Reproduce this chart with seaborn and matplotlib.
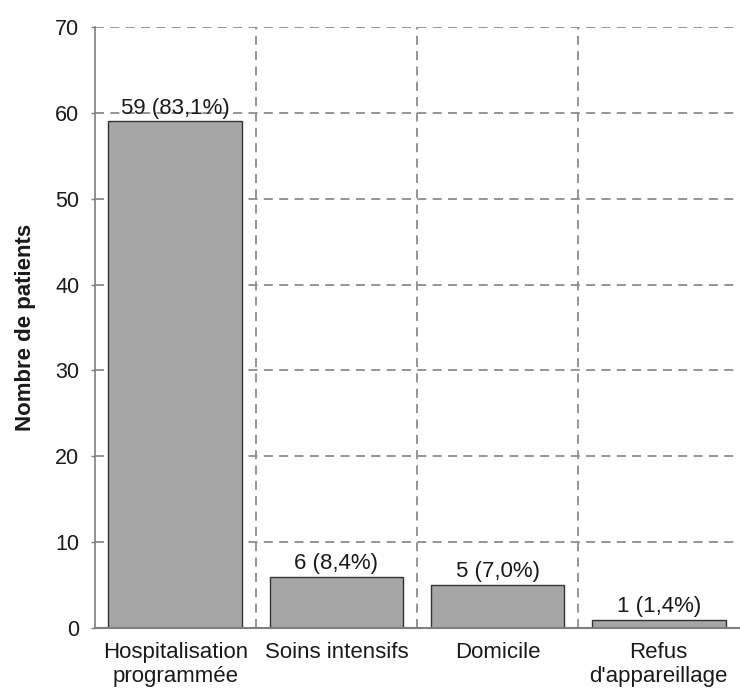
import matplotlib
matplotlib.use("Agg")
import matplotlib.pyplot as plt
import numpy as np
import seaborn as sns

categories = ["Hospitalisation\nprogrammée", "Soins intensifs", "Domicile", "Refus\nd'appareillage"]
counts = [59, 6, 5, 1]
percents = ["83,1%", "8,4%", "7,0%", "1,4%"]
y_ticks = [0, 10, 20, 30, 40, 50, 60, 70]

sns.set_theme(style="white")
plt.rcParams["font.family"] = ["Liberation Sans", "DejaVu Sans"]

fig = plt.figure(figsize=(7.40, 6.91), dpi=100)
ax = fig.add_axes([0.128, 0.091, 0.871, 0.870])

sns.barplot(
    x=categories,
    y=counts,
    color="#a6a6a6",
    saturation=1,
    edgecolor="#333333",
    linewidth=1,
    width=0.83,
    ax=ax,
    zorder=3,
)

ax.set_xlim(-0.5, 3.5)
ax.set_ylim(0, 70)
ax.set_yticks(y_ticks)
ax.set_xticks([0.5, 1.5, 2.5], minor=True)

grid_kw = dict(color="#8c8c8c", linestyle=(0, (5, 3.5)), linewidth=1.3)
ax.grid(axis="y", which="major", **grid_kw)
ax.grid(axis="x", which="minor", **grid_kw)
ax.set_axisbelow(True)

for side in ["top", "right"]:
    ax.spines[side].set_visible(False)
ax.spines["left"].set_color("#7f7f7f")
ax.spines["left"].set_linewidth(1.2)
ax.spines["bottom"].set_color("#7f7f7f")
ax.spines["bottom"].set_linewidth(1.5)
ax.spines["bottom"].set_zorder(4)

ax.tick_params(axis="y", which="major", left=True, length=3, width=1, color="#7f7f7f",
               pad=8, labelsize=15.5, labelcolor="#1a1a1a")
ax.tick_params(axis="x", which="both", bottom=False, length=0, pad=10,
               labelsize=16, labelcolor="#1a1a1a")
ax.set_ylabel("Nombre de patients", fontsize=16, fontweight="bold", color="#1a1a1a", labelpad=14)
ax.set_xlabel("")

labels = [f"{c} ({p})" for c, p in zip(counts, percents)]
ax.bar_label(ax.containers[0], labels=labels, padding=2, fontsize=16, color="#1a1a1a")

fig.savefig("out.png", dpi=100)
